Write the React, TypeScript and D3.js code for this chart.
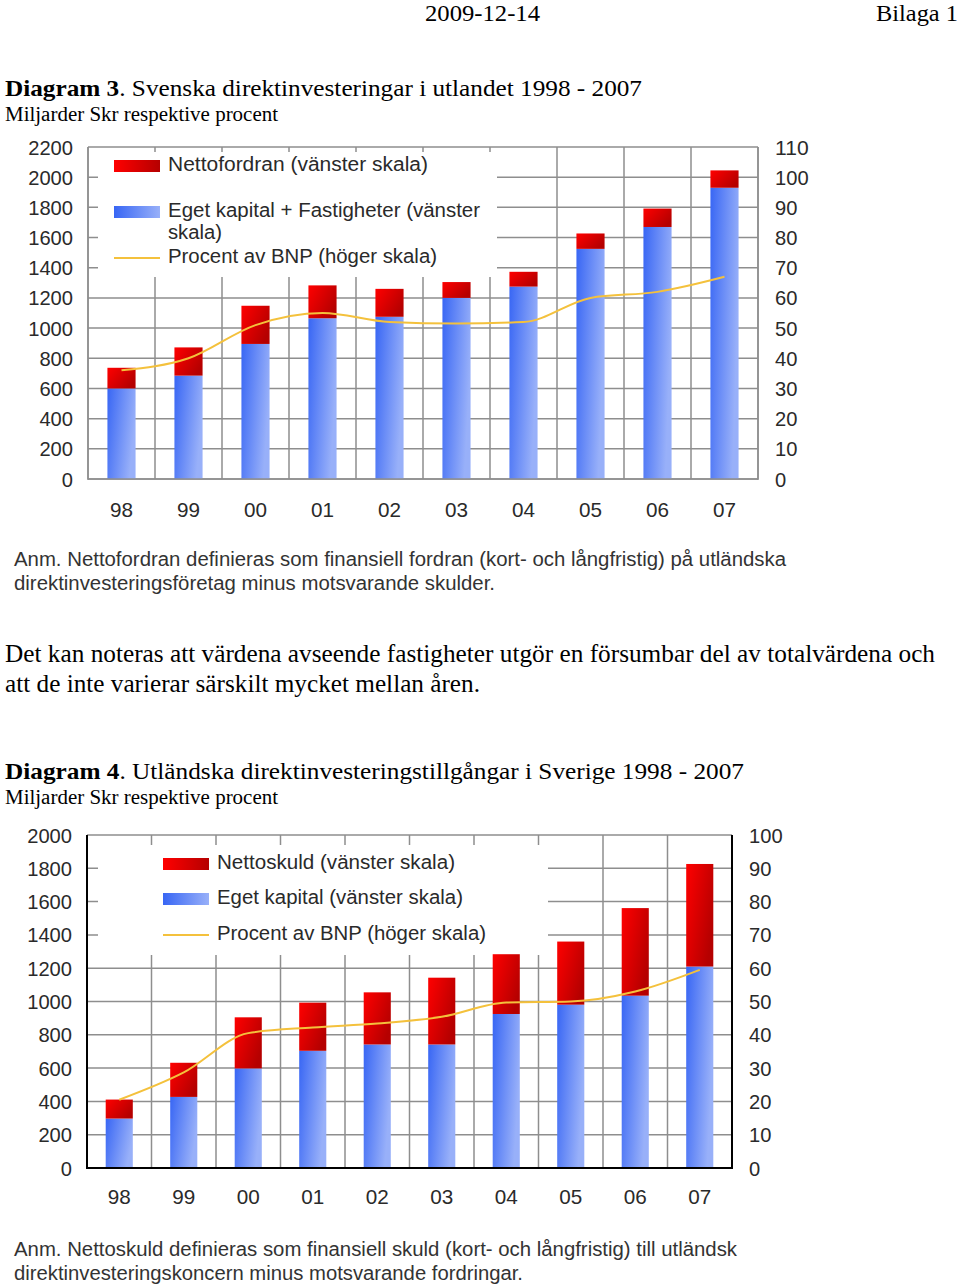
import React from 'react';
import * as d3 from 'd3';

const years = ['98', '99', '00', '01', '02', '03', '04', '05', '06', '07'];

// Diagram 3
const d3Equity = [600, 685, 895, 1065, 1075, 1200, 1275, 1525, 1670, 1930];
const d3Net = [137, 187, 253, 218, 185, 105, 98, 102, 122, 115];
const d3Pct = [36, 40, 51, 55, 52, 51.5, 52, 60, 62, 67];
const d3LeftTicks = [0, 200, 400, 600, 800, 1000, 1200, 1400, 1600, 1800, 2000, 2200];
const d3RightTicks = [0, 10, 20, 30, 40, 50, 60, 70, 80, 90, 100, 110];

// Diagram 4
const d4Equity = [297, 427, 598, 704, 742, 742, 925, 981, 1035, 1210];
const d4Net = [114, 205, 307, 289, 313, 401, 359, 379, 526, 616];
const d4Pct = [20.5, 28.7, 40.5, 42.2, 43.4, 45.4, 49.7, 50, 53, 59.5];
const d4LeftTicks = [0, 200, 400, 600, 800, 1000, 1200, 1400, 1600, 1800, 2000];
const d4RightTicks = [0, 10, 20, 30, 40, 50, 60, 70, 80, 90, 100];

const SANS = '"Liberation Sans", Arial, sans-serif';
const SERIF = '"Liberation Serif", "Times New Roman", serif';
const GRID = '#8e8e8e';
const TXT = '#2a2a2a';
const LINE = '#f4c13c';

type LegendItem = { kind: 'red' | 'blue' | 'line'; lines: { t: string; w: number; y: number }[]; sy: number };

type Cfg = {
  id: string;
  left: number; right: number; top: number; bottom: number;
  maxL: number; maxR: number;
  leftTicks: number[]; rightTicks: number[];
  equity: number[]; net: number[]; pct: number[];
  black: boolean;
  box: { x0: number; x1: number; y0: number; y1: number };
  swX: number; swW: number; txtX: number;
  legend: LegendItem[];
  xLabelDy: number;
};

function Chart({ c }: { c: Cfg }) {
  const x = d3.scaleBand<string>().domain(years).range([c.left, c.right]).paddingInner(0.58).paddingOuter(0.29);
  const yL = d3.scaleLinear().domain([0, c.maxL]).range([c.bottom, c.top]);
  const yR = d3.scaleLinear().domain([0, c.maxR]).range([c.bottom, c.top]);
  const step = x.step();
  const bounds = years.map((_, i) => c.left + i * step).concat([c.right]);
  const line = d3
    .line<number>()
    .x((_, i) => (x(years[i]) as number) + x.bandwidth() / 2)
    .y((v) => yR(v))
    .curve(d3.curveMonotoneX);
  const bw = x.bandwidth();
  const axisColor = c.black ? '#000' : GRID;
  return (
    <g>
      <defs>
        <linearGradient id={`blue-${c.id}`} x1="0" y1="0" x2="1" y2="0.35">
          <stop offset="0%" stopColor="#3866f4" />
          <stop offset="100%" stopColor="#98b0f9" />
        </linearGradient>
        <linearGradient id={`red-${c.id}`} x1="0" y1="0" x2="1" y2="0.6">
          <stop offset="0%" stopColor="#ff0000" />
          <stop offset="100%" stopColor="#b50000" />
        </linearGradient>
        <linearGradient id={`blueH-${c.id}`} x1="0" y1="0" x2="1" y2="0">
          <stop offset="0%" stopColor="#3866f4" />
          <stop offset="100%" stopColor="#98b0f9" />
        </linearGradient>
        <linearGradient id={`redH-${c.id}`} x1="0" y1="0" x2="1" y2="0">
          <stop offset="0%" stopColor="#ff0000" />
          <stop offset="100%" stopColor="#b50000" />
        </linearGradient>
      </defs>
      {c.leftTicks.map((t) => (
        <line key={`h${t}`} x1={c.left} x2={c.right} y1={yL(t)} y2={yL(t)} stroke={GRID} strokeWidth={1.5} />
      ))}
      {bounds.map((b, i) => (
        <line key={`v${i}`} x1={b} x2={b} y1={c.top} y2={c.bottom} stroke={GRID} strokeWidth={1.5} />
      ))}
      <rect x={c.box.x0} y={c.box.y0} width={c.box.x1 - c.box.x0} height={c.box.y1 - c.box.y0} fill="#fff" />
      {years.map((yr, i) => {
        const bx = x(yr) as number;
        const e = c.equity[i];
        const n = c.net[i];
        return (
          <g key={yr}>
            <rect x={bx} width={bw} y={yL(e)} height={c.bottom - yL(e)} fill={`url(#blue-${c.id})`} />
            <rect x={bx} width={bw} y={yL(e + n)} height={yL(e) - yL(e + n)} fill={`url(#red-${c.id})`} />
          </g>
        );
      })}
      <line x1={c.left} x2={c.left} y1={c.top} y2={c.bottom + 1} stroke={axisColor} strokeWidth={c.black ? 2 : 1.5} />
      <line x1={c.right} x2={c.right} y1={c.top} y2={c.bottom + 1} stroke={axisColor} strokeWidth={c.black ? 2 : 1.5} />
      <line x1={c.left} x2={c.right} y1={c.bottom} y2={c.bottom} stroke={axisColor} strokeWidth={c.black ? 2 : 1.5} />
      <path d={line(c.pct) || ''} fill="none" stroke={LINE} strokeWidth={2} />
      {c.legend.map((it, k) => (
        <g key={k}>
          {it.kind === 'red' && <rect x={c.swX} y={it.sy} width={c.swW} height={12} fill={`url(#redH-${c.id})`} />}
          {it.kind === 'blue' && <rect x={c.swX} y={it.sy} width={c.swW} height={12} fill={`url(#blueH-${c.id})`} />}
          {it.kind === 'line' && (
            <line x1={c.swX} x2={c.swX + c.swW} y1={it.sy} y2={it.sy} stroke={LINE} strokeWidth={2} />
          )}
          {it.lines.map((l, j) => (
            <text key={j} x={c.txtX} y={l.y} fontFamily={SANS} fontSize={20} fill={TXT} textLength={l.w} lengthAdjust="spacingAndGlyphs">
              {l.t}
            </text>
          ))}
        </g>
      ))}
      {c.leftTicks.map((t) => (
        <text key={`l${t}`} x={c.left - 15} y={yL(t)} dy="0.36em" textAnchor="end" fontFamily={SANS} fontSize={21} fill={TXT}
          textLength={String(t).length * 11.2} lengthAdjust="spacingAndGlyphs">
          {t}
        </text>
      ))}
      {c.rightTicks.map((t) => (
        <text key={`r${t}`} x={c.right + 17} y={yR(t)} dy="0.36em" textAnchor="start" fontFamily={SANS} fontSize={21} fill={TXT}
          textLength={String(t).length * 11.2} lengthAdjust="spacingAndGlyphs">
          {t}
        </text>
      ))}
      {years.map((yr) => (
        <text key={`x${yr}`} x={(x(yr) as number) + bw / 2} y={c.bottom + c.xLabelDy} dy="0.36em" textAnchor="middle" fontFamily={SANS} fontSize={21} fill={TXT}
          textLength={23} lengthAdjust="spacingAndGlyphs">
          {yr}
        </text>
      ))}
    </g>
  );
}

const cfg3: Cfg = {
  id: 'c3',
  left: 88, right: 758, top: 147, bottom: 479,
  maxL: 2200, maxR: 110,
  leftTicks: d3LeftTicks, rightTicks: d3RightTicks,
  equity: d3Equity, net: d3Net, pct: d3Pct,
  black: false,
  box: { x0: 98, x1: 497, y0: 152, y1: 277 },
  swX: 114, swW: 46, txtX: 168,
  legend: [
    { kind: 'red', sy: 160, lines: [{ t: 'Nettofordran (vänster skala)', w: 260, y: 171 }] },
    {
      kind: 'blue', sy: 206,
      lines: [
        { t: 'Eget kapital + Fastigheter (vänster', w: 312, y: 217 },
        { t: 'skala)', w: 54, y: 239 },
      ],
    },
    { kind: 'line', sy: 258, lines: [{ t: 'Procent av BNP (höger skala)', w: 269, y: 263 }] },
  ],
  xLabelDy: 30,
};

const cfg4: Cfg = {
  id: 'c4',
  left: 87, right: 732, top: 835, bottom: 1168,
  maxL: 2000, maxR: 100,
  leftTicks: d4LeftTicks, rightTicks: d4RightTicks,
  equity: d4Equity, net: d4Net, pct: d4Pct,
  black: true,
  box: { x0: 98, x1: 548, y0: 845, y1: 955 },
  swX: 163, swW: 46, txtX: 217,
  legend: [
    { kind: 'red', sy: 858, lines: [{ t: 'Nettoskuld (vänster skala)', w: 238, y: 869 }] },
    { kind: 'blue', sy: 893, lines: [{ t: 'Eget kapital (vänster skala)', w: 246, y: 904 }] },
    { kind: 'line', sy: 935, lines: [{ t: 'Procent av BNP (höger skala)', w: 269, y: 940 }] },
  ],
  xLabelDy: 28,
};

function T({ x, y, w, size, children, family = SERIF, fill = '#000', anchor = 'start' }: any) {
  return (
    <text x={x} y={y} fontFamily={family} fontSize={size} fill={fill} textAnchor={anchor} textLength={w} lengthAdjust="spacingAndGlyphs">
      {children}
    </text>
  );
}

export default function App() {
  return (
    <svg width={960} height={1288} style={{ position: 'absolute', left: 0, top: 0, background: '#fff' }}>
      <rect width={960} height={1288} fill="#fff" />
      <T x={425} y={21} w={115} size={24}>2009-12-14</T>
      <T x={876} y={21} w={82} size={24}>Bilaga 1</T>

      <text x={5} y={96} fontFamily={SERIF} fontSize={24} textLength={637} lengthAdjust="spacingAndGlyphs">
        <tspan fontWeight="bold">Diagram 3</tspan>
        <tspan>. Svenska direktinvesteringar i utlandet 1998 - 2007</tspan>
      </text>
      <T x={5} y={121} w={273} size={20}>Miljarder Skr respektive procent</T>

      <Chart c={cfg3} />

      <T x={14} y={566} w={772} size={20} family={SANS} fill="#333">
        Anm. Nettofordran definieras som finansiell fordran (kort- och långfristig) på utländska
      </T>
      <T x={14} y={590} w={481} size={20} family={SANS} fill="#333">
        direktinvesteringsföretag minus motsvarande skulder.
      </T>

      <T x={5} y={662} w={930} size={25}>
        Det kan noteras att värdena avseende fastigheter utgör en försumbar del av totalvärdena och
      </T>
      <T x={5} y={692} w={475} size={25}>
        att de inte varierar särskilt mycket mellan åren.
      </T>

      <text x={5} y={779} fontFamily={SERIF} fontSize={24} textLength={739} lengthAdjust="spacingAndGlyphs">
        <tspan fontWeight="bold">Diagram 4</tspan>
        <tspan>. Utländska direktinvesteringstillgångar i Sverige 1998 - 2007</tspan>
      </text>
      <T x={5} y={804} w={273} size={20}>Miljarder Skr respektive procent</T>

      <Chart c={cfg4} />

      <T x={14} y={1256} w={723} size={20} family={SANS} fill="#333">
        Anm. Nettoskuld definieras som finansiell skuld (kort- och långfristig) till utländsk
      </T>
      <T x={14} y={1280} w={509} size={20} family={SANS} fill="#333">
        direktinvesteringskoncern minus motsvarande fordringar.
      </T>
    </svg>
  );
}
